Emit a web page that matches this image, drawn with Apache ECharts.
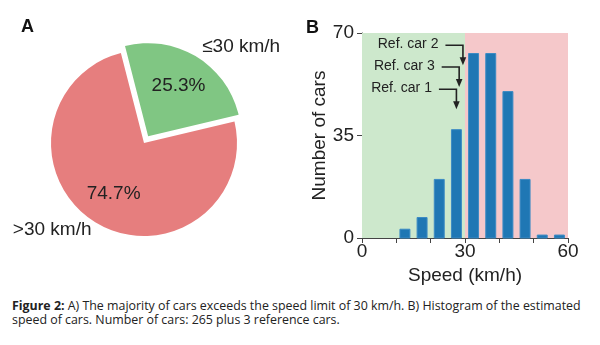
<!DOCTYPE html>
<html>
<head>
<meta charset="utf-8">
<script src="https://cdn.jsdelivr.net/npm/echarts@6/dist/echarts.min.js"></script>
<style>
  html, body { margin: 0; padding: 0; background: #fff; }
  #chart { width: 600px; height: 290px; }
  #caption {
    position: absolute; left: 12px; top: 299px; width: 580px;
    font-family: "Open Sans", sans-serif; font-size: 12.4px; line-height: 14px; color: #222;
  }
</style>
</head>
<body>
<div id="chart"></div>
<div id="caption"><b>Figure 2:</b> A) The majority of cars exceeds the speed limit of 30 km/h. B) Histogram of the estimated speed of cars. Number of cars: 265 plus 3 reference cars.</div>
<script>
// Pie: share of cars below / above the limit
const pieLabels = ['≤30 km/h', '>30 km/h'];
const pieValues = [67, 198];

// Histogram of estimated speeds (5 km/h bins)
const binStarts = [0, 5, 10, 15, 20, 25, 30, 35, 40, 45, 50, 55];
const binCounts = [0, 0, 3, 7, 20, 37, 63, 63, 50, 20, 1, 1];
const binWidth = 5;
const speedLimit = 30;
const xTicksShown = [0, 30, 60];
const yTicks = [0, 35, 70];

// Reference cars: name and estimated speed
const refNames = ['Ref. car 2', 'Ref. car 3', 'Ref. car 1'];
const refSpeeds = [29.4, 28.3, 27.5];
const refLevels = [65.8, 58.4, 50.8];

const FONT = '"Liberation Sans", Arial, Helvetica, sans-serif';
const chart = echarts.init(document.getElementById('chart'), null, { renderer: 'canvas' });

const pieData = pieLabels.map((name, i) => ({
  name,
  value: pieValues[i],
  selected: i === 0,
  itemStyle: { color: i === 0 ? '#80c683' : '#e67e7e' },
  labelLine: { show: false, length: i === 0 ? 11.6 : 8.6, length2: 0 }
}));

chart.setOption({
  animation: false,
  textStyle: { fontFamily: FONT },
  graphic: [
    { type: 'text', left: 21, top: 18, style: { text: 'A', font: 'bold 18px ' + FONT, fill: '#111' } },
    { type: 'text', left: 306, top: 19, style: { text: 'B', font: 'bold 18px ' + FONT, fill: '#111' } }
  ],
  grid: { left: 362, right: 32, top: 33, bottom: 52, containLabel: false },
  xAxis: {
    type: 'value', min: 0, max: 60, interval: 10,
    name: 'Speed (km/h)', nameLocation: 'middle', nameGap: 22,
    nameTextStyle: { fontSize: 19, color: '#222', fontFamily: FONT },
    axisLine: { show: true, lineStyle: { color: '#444', width: 1 } },
    axisTick: { show: true, length: 5, lineStyle: { color: '#444' } },
    axisLabel: {
      fontSize: 19, color: '#222', margin: 4, fontFamily: FONT,
      formatter: v => xTicksShown.includes(v) ? String(v) : ''
    },
    splitLine: { show: false }
  },
  yAxis: {
    type: 'value', min: 0, max: 70, interval: 35,
    name: 'Number of cars', nameLocation: 'middle', nameGap: 30, nameRotate: 90,
    nameTextStyle: { fontSize: 19, color: '#222', fontFamily: FONT },
    axisLine: { show: true, lineStyle: { color: '#444', width: 1 } },
    axisTick: { show: true, length: 5, lineStyle: { color: '#444' } },
    axisLabel: { fontSize: 19, color: '#222', margin: 8, fontFamily: FONT,
      formatter: v => yTicks.includes(v) ? String(v) : '' },
    splitLine: { show: false }
  },
  series: [
    {
      // pie slices with outer category labels
      type: 'pie',
      center: [144, 143],
      radius: [0, 93],
      startAngle: 104.4,
      selectedMode: 'single',
      selectedOffset: 8,
      silent: true,
      data: pieData,
      label: {
        show: true, position: 'outside', formatter: '{b}',
        fontSize: 19, color: '#222', fontFamily: FONT, distanceToLabelLine: 0
      },
      emphasis: { disabled: true },
      select: { itemStyle: {} }
    },
    {
      // invisible ring that places percentage labels at 0.6 of the radius
      type: 'pie',
      center: [144, 143],
      radius: [0, 111.6],
      startAngle: 104.4,
      selectedMode: 'single',
      selectedOffset: 8,
      silent: true,
      percentPrecision: 1,
      data: pieLabels.map((name, i) => ({ name, value: pieValues[i], selected: i === 0 })),
      itemStyle: { color: 'rgba(0,0,0,0)' },
      label: { show: true, position: 'inside', formatter: '{d}%', fontSize: 19, color: '#222', fontFamily: FONT },
      labelLine: { show: false },
      emphasis: { disabled: true }
    },
    {
      // shaded regions below / above the speed limit
      type: 'line', data: [], silent: true, z: 1,
      markArea: {
        silent: true,
        data: [
          [{ xAxis: 0, yAxis: 0, itemStyle: { color: '#cde8cc' } }, { xAxis: speedLimit, yAxis: 70 }],
          [{ xAxis: speedLimit, yAxis: 0, itemStyle: { color: '#f5c8ca' } }, { xAxis: 60, yAxis: 70 }]
        ]
      }
    },
    {
      // histogram bars
      type: 'custom', z: 3, silent: true,
      data: binStarts.map((s, i) => [s, binCounts[i]]),
      renderItem: (params, api) => {
        const s = api.value(0), c = api.value(1);
        if (!c) return null;
        const p0 = api.coord([s, 0]);
        const p1 = api.coord([s + binWidth, c]);
        const bw = p1[0] - p0[0];
        const w = bw * 0.58;
        return {
          type: 'rect',
          shape: { x: p0[0] + (bw - w) / 2, y: p1[1], width: w, height: p0[1] - p1[1] },
          style: { fill: '#1f77b4', stroke: '#3c8bc4', lineWidth: 1 }
        };
      }
    },
    {
      // reference car annotations with elbow arrows
      type: 'custom', z: 4, silent: true,
      data: refSpeeds.map((v, i) => [v, refLevels[i], i]),
      renderItem: (params, api) => {
        const tip = api.coord([api.value(0), api.value(1)]);
        const i = api.value(2);
        const x = tip[0], yTop = tip[1];
        const yTip = yTop + 20;
        const xStart = x - 17.5;
        return {
          type: 'group',
          children: [
            { type: 'polyline', shape: { points: [[xStart, yTop], [x, yTop], [x, yTip - 7]] },
              style: { stroke: '#222', lineWidth: 1.6, fill: null } },
            { type: 'polygon', shape: { points: [[x - 3.3, yTip - 8], [x + 3.3, yTip - 8], [x, yTip]] },
              style: { fill: '#222' } },
            { type: 'text', x: xStart - 7, y: yTop - 1,
              style: { text: refNames[i], font: '14px ' + FONT, fill: '#222', align: 'right', verticalAlign: 'middle' } }
          ]
        };
      }
    }
  ]
});
</script>
</body>
</html>
